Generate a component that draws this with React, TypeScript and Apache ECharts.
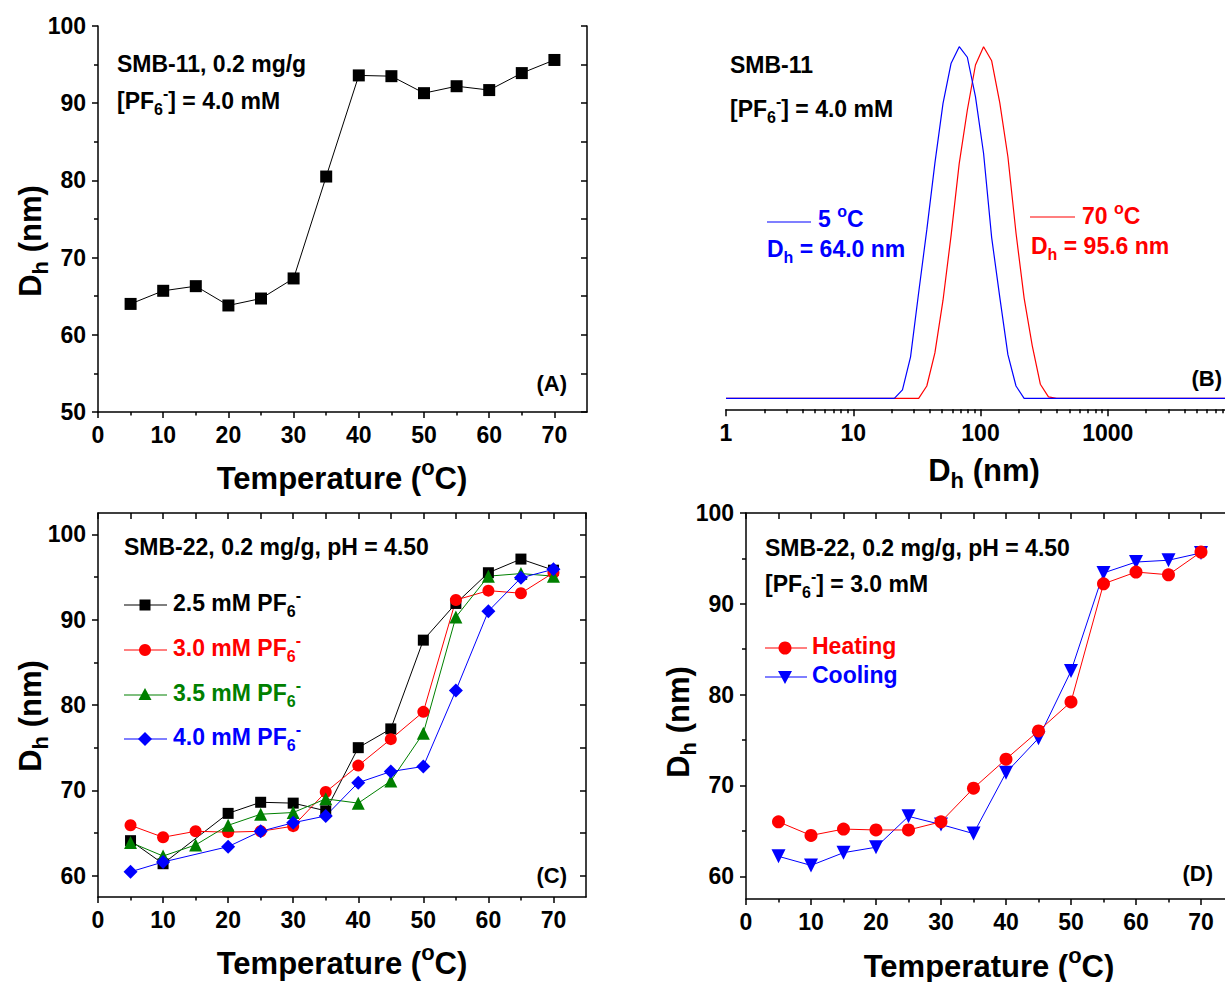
import React, { useEffect, useRef } from 'react';
import * as echarts from 'echarts';

const FONT = "'Liberation Sans', Arial, Helvetica, sans-serif";
const RED = '#ff0000';
const BLUE = '#0000ff';
const GREEN = '#008000';
const BLACK = '#000000';

// ---------- Panel A : SMB-11, 0.2 mg/g, [PF6-] = 4.0 mM ----------
const tempA = [5, 10, 15, 20, 25, 30, 35, 40, 45, 50, 55, 60, 65, 70];
const dhA = [64.0, 65.7, 66.3, 63.8, 64.7, 67.3, 80.5, 93.6, 93.5, 91.3, 92.2, 91.7, 93.9, 95.6];

// ---------- Panel B : DLS size distributions ----------
const sizeCold = [1, 21.04, 24.36, 28.21, 32.67, 37.84, 43.82, 50.75, 58.77, 68.06, 78.82, 91.28, 105.7, 122.4, 141.8, 164.2, 190.1, 220.2, 10000];
const intCold = [0, 0, 2.4, 11.8, 30.1, 47.9, 66.9, 83.9, 95.3, 100, 97.0, 85.8, 69.7, 45.7, 28.7, 12.4, 3.5, 0, 0];
const sizeHot = [1, 32.67, 37.84, 43.82, 50.75, 58.77, 68.06, 78.82, 91.28, 105.7, 122.4, 141.8, 164.2, 190.1, 220.2, 255.0, 295.3, 342.0, 396.1, 10000];
const intHot = [0, 0, 3.5, 12.9, 27.9, 46.4, 66.8, 82.0, 94.8, 100, 96.0, 84.0, 68.7, 47.0, 28.5, 15.0, 4.0, 0.4, 0, 0];

// ---------- Panel C : SMB-22, various PF6- ----------
const tempC = [5, 10, 15, 20, 25, 30, 35, 40, 45, 50, 55, 60, 65, 70];
const dh25 = [64.1, 61.4, null, 67.3, 68.6, 68.5, 67.6, 75.0, 77.2, 87.6, 91.9, 95.5, 97.1, 95.8];
const dh30 = [65.9, 64.5, 65.2, 65.1, 65.2, 65.8, 69.8, 72.9, 76.0, 79.2, 92.3, 93.4, 93.1, 95.5];
const dh35 = [63.9, 62.3, 63.6, 65.9, 67.2, 67.4, 69.0, 68.5, 71.1, 76.7, 90.3, 95.1, 95.4, 95.1];
const dh40 = [60.45, 61.6, null, 63.4, 65.2, 66.2, 67.0, 70.9, 72.2, 72.8, 81.7, 91.0, 94.9, 95.9];

// ---------- Panel D : heating / cooling ----------
const tempD = [5, 10, 15, 20, 25, 30, 35, 40, 45, 50, 55, 60, 65, 70];
const dhHeat = [66.0, 64.5, 65.2, 65.1, 65.1, 66.0, 69.7, 72.9, 76.0, 79.2, 92.2, 93.5, 93.2, 95.7];
const dhCool = [62.2, 61.2, 62.6, 63.2, 66.6, 65.7, 64.7, 71.4, 75.2, 82.6, 93.4, 94.6, 94.8, 95.6];

// ---------- tick values ----------
const tempTicks = [0, 10, 20, 30, 40, 50, 60, 70];
const tempMinor = [5, 15, 25, 35, 45, 55, 65];
const tempAll = [0, 5, 10, 15, 20, 25, 30, 35, 40, 45, 50, 55, 60, 65, 70, 75];
const yTicksA = [50, 60, 70, 80, 90, 100];
const yMinorA = [55, 65, 75, 85, 95];
const yTicksCD = [60, 70, 80, 90, 100];
const yMinorCD = [65, 75, 85, 95];
const logMinorFactors = [2, 3, 4, 5, 6, 7, 8, 9];
const logDecades = [1, 10, 100, 1000];

const zip = (xs: number[], ys: (number | null)[]) =>
  xs.map((x, i) => [x, ys[i]]).filter((p) => p[1] !== null && p[1] !== undefined);

const axisLineStyle = { color: BLACK, width: 1.5 };
const labelStyle = { fontFamily: FONT, fontWeight: 'bold' as const, fontSize: 23, color: BLACK };

function rich(size: number, color: string) {
  const base = { fontFamily: FONT, fontWeight: 'bold', fill: color, color };
  return {
    n: { ...base, fontSize: size, lineHeight: Math.round(size * 1.4) },
    b: { ...base, fontSize: Math.round(size * 0.7), verticalAlign: 'bottom' },
    p: { ...base, fontSize: Math.round(size * 0.7), verticalAlign: 'top' },
  };
}

function txt(x: number, y: number, text: string, size: number, color = BLACK, align = 'left', rotation = 0) {
  return {
    type: 'text',
    x,
    y,
    rotation,
    z: 100,
    style: {
      text,
      rich: rich(size, color),
      align,
      verticalAlign: 'middle',
      fontFamily: FONT,
      fontWeight: 'bold',
      fontSize: size,
      fill: color,
    },
  };
}

function seg(x1: number, x2: number, y: number, color: string) {
  return { type: 'line', z: 100, shape: { x1, y1: y, x2, y2: y }, style: { stroke: color, lineWidth: 1.2 } };
}

const xAxes: any[] = [];
const yAxes: any[] = [];
const addX = (o: any) => { xAxes.push(o); return xAxes.length - 1; };
const addY = (o: any) => { yAxes.push(o); return yAxes.length - 1; };

function tempX(g: number, top: boolean) {
  const main = addX({
    gridIndex: g, type: 'value', min: 0, max: 75, position: 'bottom',
    axisLine: { show: true, onZero: false, lineStyle: axisLineStyle },
    axisTick: { show: true, length: 6, lineStyle: axisLineStyle, customValues: tempTicks },
    axisLabel: { show: true, customValues: tempTicks, margin: 11, ...labelStyle },
    splitLine: { show: false },
  });
  addX({
    gridIndex: g, type: 'value', min: 0, max: 75, position: 'bottom',
    axisLine: { show: false, onZero: false },
    axisTick: { show: true, length: 3.5, lineStyle: axisLineStyle, customValues: tempMinor },
    axisLabel: { show: false }, splitLine: { show: false },
  });
  if (top) {
    addX({
      gridIndex: g, type: 'value', min: 0, max: 75, position: 'top',
      axisLine: { show: true, onZero: false, lineStyle: axisLineStyle },
      axisTick: { show: true, inside: true, length: 6, lineStyle: axisLineStyle, customValues: tempAll },
      axisLabel: { show: false }, splitLine: { show: false },
    });
  }
  return main;
}

function dhY(g: number, min: number, max: number, ticks: number[], minor: number[]) {
  const main = addY({
    gridIndex: g, type: 'value', min, max, position: 'left',
    axisLine: { show: true, onZero: false, lineStyle: axisLineStyle },
    axisTick: { show: true, length: 6, lineStyle: axisLineStyle, customValues: ticks },
    axisLabel: { show: true, customValues: ticks, margin: 12, ...labelStyle },
    splitLine: { show: false },
  });
  addY({
    gridIndex: g, type: 'value', min, max, position: 'left',
    axisLine: { show: false, onZero: false },
    axisTick: { show: true, length: 4, lineStyle: axisLineStyle, customValues: minor },
    axisLabel: { show: false }, splitLine: { show: false },
  });
  addY({
    gridIndex: g, type: 'value', min, max, position: 'right',
    axisLine: { show: true, onZero: false, lineStyle: axisLineStyle },
    axisTick: { show: true, inside: true, length: 6, lineStyle: axisLineStyle, customValues: [...ticks, ...minor] },
    axisLabel: { show: false }, splitLine: { show: false },
  });
  return main;
}

function buildOption() {
  xAxes.length = 0;
  yAxes.length = 0;

  const grids = [
    { left: 98, top: 26, width: 489, height: 386, outerBoundsMode: 'none', containLabel: false },
    { left: 726, top: 46.7, width: 509, height: 362.6, outerBoundsMode: 'none', containLabel: false },
    { left: 98, top: 513, width: 488, height: 384, outerBoundsMode: 'none', containLabel: false },
    { left: 746, top: 513, width: 487.5, height: 386, outerBoundsMode: 'none', containLabel: false },
  ];

  // Panel A axes
  const xA = tempX(0, false);
  const yA = dhY(0, 50, 100, yTicksA, yMinorA);

  // Panel B axes
  const xB = addX({
    gridIndex: 1, type: 'log', logBase: 10, min: 1, max: 10000, position: 'bottom',
    axisLine: { show: true, onZero: false, lineStyle: axisLineStyle },
    axisTick: { show: true, length: 7, lineStyle: axisLineStyle },
    axisLabel: {
      show: true, margin: 12, ...labelStyle,
      formatter: (v: number) => (v >= 9999 ? '' : String(Math.round(v))),
    },
    minorTick: { show: false },
    splitLine: { show: false },
  });
  const logMinor: number[] = [];
  logDecades.forEach((d) => logMinorFactors.forEach((k) => logMinor.push(Math.log10(k * d))));
  addX({
    gridIndex: 1, type: 'value', min: 0, max: 4, position: 'bottom',
    axisLine: { show: false, onZero: false },
    axisTick: { show: true, length: 4, lineStyle: axisLineStyle, customValues: logMinor },
    axisLabel: { show: false }, splitLine: { show: false },
  });
  const yB = addY({ gridIndex: 1, type: 'value', min: -3.13, max: 100, show: false });

  // Panel C axes
  const xC = tempX(2, true);
  const yC = dhY(2, 57.5, 102.5, yTicksCD, yMinorCD);

  // Panel D axes
  const xD = tempX(3, true);
  const yD = dhY(3, 57.5, 100, yTicksCD, yMinorCD);

  const lineSeries = (name: string, xi: number, yi: number, data: any[], color: string, symbol: string, size: number, rotate = 0) => ({
    name, type: 'line', xAxisIndex: xi, yAxisIndex: yi, data,
    symbol, symbolSize: size, symbolRotate: rotate,
    lineStyle: { color, width: 1 }, itemStyle: { color },
    showSymbol: true, clip: false,
  });

  const series: any[] = [
    lineSeries('A', xA, yA, zip(tempA, dhA), BLACK, 'rect', 12),
    { name: '70 C', type: 'line', xAxisIndex: xB, yAxisIndex: yB, data: zip(sizeHot, intHot), symbol: 'none', showSymbol: false, lineStyle: { color: RED, width: 1.2 }, itemStyle: { color: RED } },
    { name: '5 C', type: 'line', xAxisIndex: xB, yAxisIndex: yB, data: zip(sizeCold, intCold), symbol: 'none', showSymbol: false, lineStyle: { color: BLUE, width: 1.2 }, itemStyle: { color: BLUE } },
    lineSeries('2.5', xC, yC, zip(tempC, dh25), BLACK, 'rect', 11),
    lineSeries('3.0', xC, yC, zip(tempC, dh30), RED, 'circle', 12),
    lineSeries('3.5', xC, yC, zip(tempC, dh35), GREEN, 'triangle', 13),
    lineSeries('4.0', xC, yC, zip(tempC, dh40), BLUE, 'diamond', 14),
    lineSeries('Cooling', xD, yD, zip(tempD, dhCool), BLUE, 'triangle', 14, 180),
    lineSeries('Heating', xD, yD, zip(tempD, dhHeat), RED, 'circle', 13),
  ];

  const dhTitle = '{n|D}{b|h}{n| (nm)}';
  const tTitle = '{n|Temperature (}{p|o}{n|C)}';
  const pf = '{n|PF}{b|6}{p|-}';

  const legendC = [
    { y: 605, color: BLACK, label: '2.5' },
    { y: 650, color: RED, label: '3.0' },
    { y: 695, color: GREEN, label: '3.5' },
    { y: 739, color: BLUE, label: '4.0' },
  ];
  const mk = 145;
  const graphic: any[] = [
    // Panel A
    txt(117, 64, '{n|SMB-11, 0.2 mg/g}', 23),
    txt(117, 101, '{n|[PF}{b|6}{p|-}{n|] = 4.0 mM}', 23),
    txt(567, 383, '{n|(A)}', 22, BLACK, 'right'),
    txt(30, 241, dhTitle, 31, BLACK, 'center', Math.PI / 2),
    txt(342, 478, tTitle, 31, BLACK, 'center'),
    // Panel B
    txt(730, 65, '{n|SMB-11}', 23),
    txt(730, 109, '{n|[PF}{b|6}{p|-}{n|] = 4.0 mM}', 23),
    seg(767, 811, 222, BLUE),
    txt(818, 219, '{n|5 }{p|o}{n|C}', 23, BLUE),
    txt(767, 249, '{n|D}{b|h}{n| = 64.0 nm}', 23, BLUE),
    seg(1030, 1075, 217, RED),
    txt(1082, 216, '{n|70 }{p|o}{n|C}', 23, RED),
    txt(1031, 246, '{n|D}{b|h}{n| = 95.6 nm}', 23, RED),
    txt(1222, 378, '{n|(B)}', 22, BLACK, 'right'),
    txt(984, 470, dhTitle, 31, BLACK, 'center'),
    // Panel C
    txt(124, 547, '{n|SMB-22, 0.2 mg/g, pH = 4.50}', 23),
    txt(567, 875, '{n|(C)}', 22, BLACK, 'right'),
    txt(30, 716, dhTitle, 31, BLACK, 'center', Math.PI / 2),
    txt(342, 963, tTitle, 31, BLACK, 'center'),
    ...legendC.flatMap((l) => [seg(124, 167, l.y, l.color), txt(173, l.y - 2, `{n|${l.label} mM }${pf}`, 23, l.color)]),
    { type: 'rect', z: 101, shape: { x: mk - 5.5, y: 605 - 5.5, width: 11, height: 11 }, style: { fill: BLACK } },
    { type: 'circle', z: 101, shape: { cx: mk, cy: 650, r: 6 }, style: { fill: RED } },
    { type: 'polygon', z: 101, shape: { points: [[mk, 695 - 7], [mk - 6.5, 695 + 5], [mk + 6.5, 695 + 5]] }, style: { fill: GREEN } },
    { type: 'polygon', z: 101, shape: { points: [[mk, 739 - 7], [mk + 7, 739], [mk, 739 + 7], [mk - 7, 739]] }, style: { fill: BLUE } },
    // Panel D
    txt(765, 548, '{n|SMB-22, 0.2 mg/g, pH = 4.50}', 23),
    txt(765, 584, '{n|[PF}{b|6}{p|-}{n|] = 3.0 mM}', 23),
    seg(765, 807, 648, RED),
    { type: 'circle', z: 101, shape: { cx: 785, cy: 648, r: 6.5 }, style: { fill: RED } },
    txt(812, 646, '{n|Heating}', 23, RED),
    seg(765, 807, 677, BLUE),
    { type: 'polygon', z: 101, shape: { points: [[778, 671], [792, 671], [785, 684]] }, style: { fill: BLUE } },
    txt(812, 675, '{n|Cooling}', 23, BLUE),
    txt(1213, 873, '{n|(D)}', 22, BLACK, 'right'),
    txt(678, 722, dhTitle, 31, BLACK, 'center', Math.PI / 2),
    txt(989, 966, tTitle, 31, BLACK, 'center'),
  ];

  return {
    animation: false,
    backgroundColor: '#ffffff',
    textStyle: { fontFamily: FONT },
    grid: grids,
    xAxis: xAxes.slice(),
    yAxis: yAxes.slice(),
    series,
    graphic,
  };
}

export default function App() {
  const ref = useRef<HTMLDivElement>(null);
  useEffect(() => {
    if (!ref.current) return;
    const chart = echarts.init(ref.current, undefined, { renderer: 'svg' });
    chart.setOption(buildOption() as any);
    return () => chart.dispose();
  }, []);
  return (
    <div
      ref={ref}
      style={{ position: 'absolute', left: 0, top: 0, width: 1225, height: 982, background: '#fff' }}
    />
  );
}
